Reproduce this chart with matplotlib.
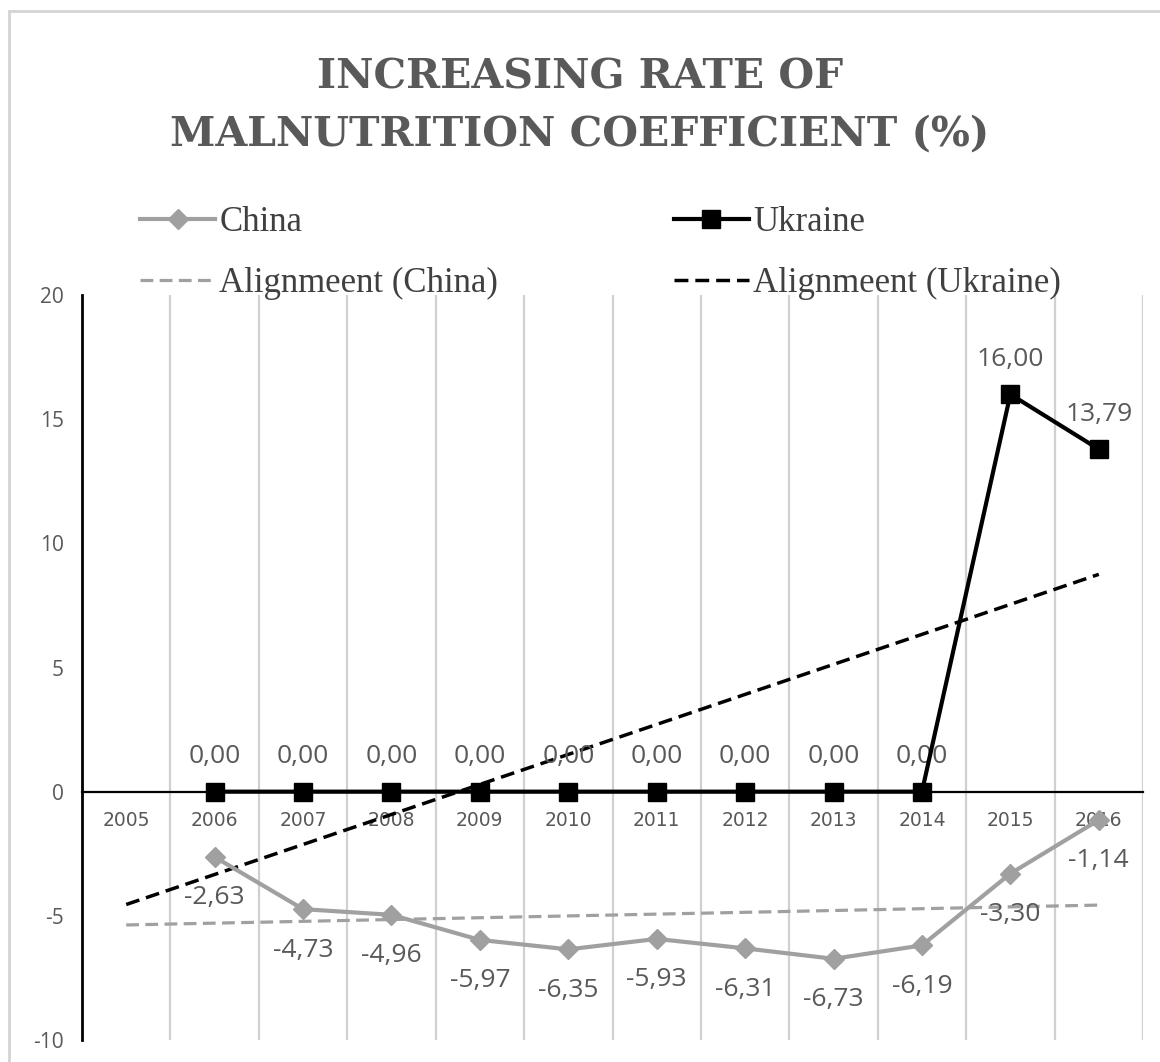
import numpy as np
import matplotlib.pyplot as plt
from matplotlib.patches import Rectangle

plt.rcParams['axes.unicode_minus'] = False

# Yearly increase of the malnutrition coefficient, %
years = ['2005', '2006', '2007', '2008', '2009', '2010', '2011', '2012', '2013', '2014', '2015', '2016']
china = [np.nan, -2.63, -4.73, -4.96, -5.97, -6.35, -5.93, -6.31, -6.73, -6.19, -3.30, -1.14]
ukraine = [np.nan, 0.00, 0.00, 0.00, 0.00, 0.00, 0.00, 0.00, 0.00, 0.00, 16.00, 13.79]

china_col = '#a0a0a0'
text_col = '#595959'

x = np.arange(len(years))
fig = plt.figure(figsize=(11.6, 10.62), dpi=100)
ax = fig.add_axes([82 / 1160, 1 - 1040 / 1062, (1143 - 82) / 1160, 745 / 1062])

# chart border
fig.patches.append(Rectangle((9 / 1160, -0.05), 1.2, 1 - 11 / 1062 + 0.05, transform=fig.transFigure,
                             fill=False, edgecolor='#d4d4d4', linewidth=2))


def trend(vals):
    # linear fit over the available years, forecast one period back
    v = np.array(vals)
    ok = ~np.isnan(v)
    k, b = np.polyfit(x[ok], v[ok], 1)
    return k * x + b


ax.plot(x, trend(china), color=china_col, linestyle=(0, (4, 2)), linewidth=2.3, label='Alignmeent (China)', zorder=3)
ax.plot(x, trend(ukraine), color='black', linestyle=(0, (4, 2)), linewidth=2.5, label='Alignmeent (Ukraine)', zorder=3)
ax.plot(x, china, color=china_col, linewidth=3, marker='D', markersize=10, label='China', zorder=4)
ax.plot(x, ukraine, color='black', linewidth=3, marker='s', markersize=13, label='Ukraine', zorder=5)

for xi, v in zip(x, china):
    if not np.isnan(v):
        ax.annotate(f'{v:.2f}'.replace('.', ','), (xi, v), xytext=(0, -29.5), textcoords='offset points',
                    ha='center', va='center', fontsize=19, color=text_col, family='Open Sans')
for xi, v in zip(x, ukraine):
    if not np.isnan(v):
        ax.annotate(f'{v:.2f}'.replace('.', ','), (xi, v), xytext=(0, 25), textcoords='offset points',
                    ha='center', va='center', fontsize=19, color=text_col, family='Open Sans')

ax.set_xlim(-0.5, len(years) - 0.5)
ax.set_ylim(-10, 20)
ax.set_yticks([-10, -5, 0, 5, 10, 15, 20])
ax.set_xticks(x)
ax.set_xticklabels(years)
ax.set_xticks(np.arange(0.5, len(years)), minor=True)
ax.grid(True, which='minor', axis='x', color='#d0d0d0', linewidth=1.6)
ax.tick_params(axis='both', which='both', length=0)
ax.tick_params(axis='x', pad=14, labelsize=13.5, labelcolor=text_col)
ax.tick_params(axis='y', pad=13, labelsize=15, labelcolor=text_col)
for lab in ax.get_xticklabels() + ax.get_yticklabels():
    lab.set_family('Open Sans')

ax.spines['bottom'].set_position(('data', 0))
ax.spines['bottom'].set_linewidth(1.6)
ax.spines['left'].set_linewidth(2)
ax.spines['top'].set_visible(False)
ax.spines['right'].set_visible(False)

fig.text(0.5, 1 - 106 / 1062, 'INCREASING RATE OF\nMALNUTRITION COEFFICIENT (%)', ha='center', va='center',
         fontsize=29.5, fontweight='bold', family='DejaVu Serif', color=text_col, linespacing=1.55)

h, l = ax.get_legend_handles_labels()
order = [2, 0, 3, 1]
fig.legend([h[i] for i in order], [l[i] for i in order], ncol=2, loc='upper left',
           bbox_to_anchor=(109 / 1160, 1 - 175 / 1062), frameon=False, handlelength=2.16, handletextpad=0.12,
           columnspacing=5.05, labelspacing=0.8, prop={'family': 'Liberation Serif', 'size': 25},
           labelcolor='#404040')

fig.savefig('out.png', dpi=100)
